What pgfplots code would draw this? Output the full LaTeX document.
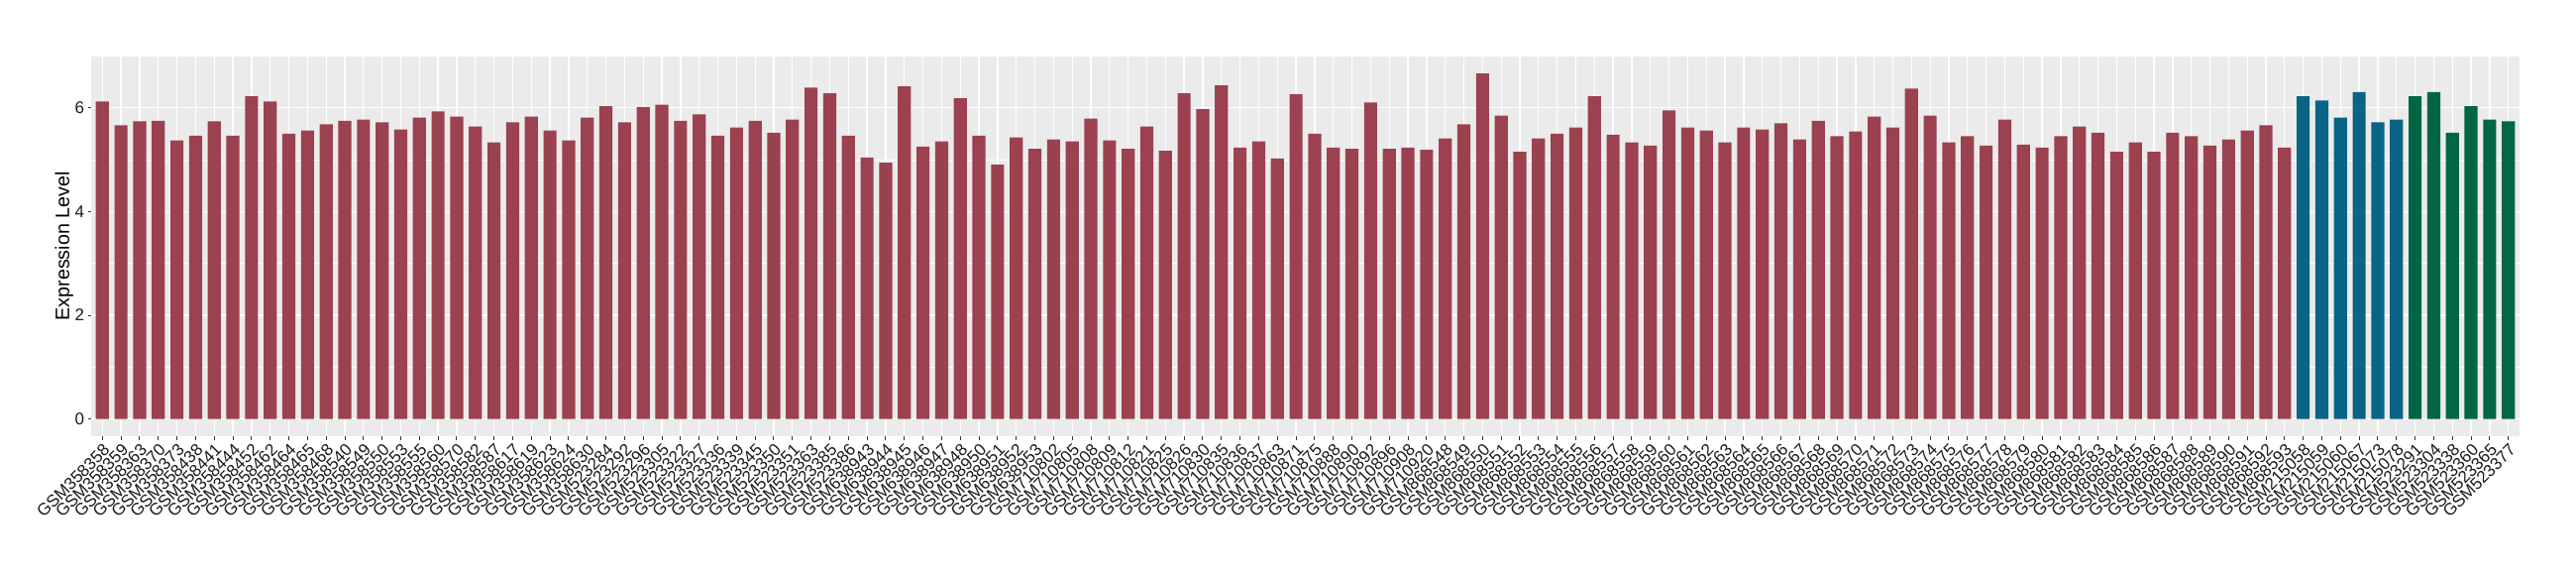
\documentclass[border=0pt]{standalone}
\usepackage{pgfplots}
\pgfplotsset{compat=1.18}
\usepackage{pgfplotstable}
\usepackage{fontspec}
\setmainfont{Liberation Sans}
\definecolor{barred}{HTML}{9B4150}
\definecolor{barblue}{HTML}{0A6485}
\definecolor{bargreen}{HTML}{006644}
\definecolor{panelbg}{HTML}{EBEBEB}
\definecolor{tickcol}{HTML}{333333}
\definecolor{ticklab}{HTML}{1A1A1A}

\pgfplotstableread{
x y
1 6.12
2 5.66
3 5.74
4 5.75
5 5.37
6 5.46
7 5.74
8 5.46
9 6.22
10 6.12
11 5.50
12 5.56
13 5.68
14 5.75
15 5.77
16 5.72
17 5.58
18 5.81
19 5.93
20 5.83
21 5.64
22 5.33
23 5.72
24 5.83
25 5.56
26 5.37
27 5.81
28 6.03
29 5.72
30 6.01
31 6.06
32 5.75
33 5.87
34 5.46
35 5.62
36 5.75
37 5.52
38 5.77
39 6.39
40 6.28
41 5.46
42 5.04
43 4.94
44 6.41
45 5.25
46 5.35
47 6.18
48 5.46
49 4.90
50 5.43
51 5.21
52 5.39
53 5.35
54 5.79
55 5.37
56 5.21
57 5.64
58 5.17
59 6.28
60 5.97
61 6.43
62 5.23
63 5.35
64 5.02
65 6.26
66 5.50
67 5.23
68 5.21
69 6.10
70 5.21
71 5.23
72 5.19
73 5.41
74 5.68
75 6.66
76 5.85
77 5.15
78 5.41
79 5.50
80 5.62
81 6.22
82 5.48
83 5.33
84 5.27
85 5.95
86 5.62
87 5.56
88 5.33
89 5.62
90 5.58
91 5.70
92 5.39
93 5.75
94 5.45
95 5.54
96 5.83
97 5.62
98 6.37
99 5.85
100 5.33
101 5.45
102 5.27
103 5.77
104 5.29
105 5.23
106 5.45
107 5.64
108 5.52
109 5.15
110 5.33
111 5.15
112 5.52
113 5.45
114 5.27
115 5.39
116 5.56
117 5.66
118 5.23
}\redtab

\pgfplotstableread{
x y
119 6.22
120 6.14
121 5.81
122 6.30
123 5.72
124 5.77
}\bluetab

\pgfplotstableread{
x y
125 6.22
126 6.30
127 5.52
128 6.03
129 5.77
130 5.74
}\greentab

\begin{document}
\begin{tikzpicture}
\path[use as bounding box] (-46pt,-70pt) rectangle (1254pt,220.05pt);
\begin{axis}[
  at={(0,0)}, anchor=south west,
  scale only axis, width=1225.5pt, height=191.7pt,
  xmin=0.4, xmax=130.6, ymin=-0.333, ymax=6.993,
  axis background/.style={fill=panelbg},
  axis x line*=bottom, axis y line*=left,
  axis line style={draw=none},
  xtick={1,...,130},
  xticklabels={GSM358358,GSM358359,GSM358363,GSM358370,GSM358373,GSM358438,GSM358441,GSM358444,GSM358452,GSM358462,GSM358464,GSM358465,GSM358468,GSM358540,GSM358549,GSM358550,GSM358553,GSM358555,GSM358560,GSM358570,GSM358582,GSM358587,GSM358617,GSM358619,GSM358623,GSM358624,GSM358630,
  GSM523284,GSM523292,GSM523296,GSM523305,GSM523322,GSM523327,GSM523336,GSM523339,GSM523345,GSM523350,GSM523351,GSM523363,GSM523385,GSM523386,
  GSM638943,GSM638944,GSM638945,GSM638946,GSM638947,GSM638948,GSM638950,GSM638951,GSM638952,GSM638953,
  GSM710802,GSM710805,GSM710808,GSM710809,GSM710812,GSM710821,GSM710825,GSM710826,GSM710830,GSM710835,GSM710836,GSM710837,GSM710863,GSM710871,GSM710875,GSM710888,GSM710890,GSM710892,GSM710896,GSM710908,GSM710920,
  GSM868548,GSM868549,GSM868550,GSM868551,GSM868552,GSM868553,GSM868554,GSM868555,GSM868556,GSM868557,GSM868558,GSM868559,GSM868560,GSM868561,GSM868562,GSM868563,GSM868564,GSM868565,GSM868566,GSM868567,GSM868568,GSM868569,GSM868570,GSM868571,GSM868572,GSM868573,GSM868574,GSM868575,GSM868576,GSM868577,GSM868578,GSM868579,GSM868580,GSM868581,GSM868582,GSM868583,GSM868584,GSM868585,GSM868586,GSM868587,GSM868588,GSM868589,GSM868590,GSM868591,GSM868592,GSM868593,
  GSM215058,GSM215059,GSM215060,GSM215067,GSM215073,GSM215078,
  GSM523291,GSM523304,GSM523338,GSM523360,GSM523365,GSM523377},
  ytick={0,2,4,6}, minor ytick={1,3,5},
  xmajorgrids, ymajorgrids, yminorgrids,
  major grid style={white, line width=0.65pt},
  minor grid style={white, line width=0.35pt},
  tick align=outside,
  major tick length=1.7pt,
  minor tick length=0pt,
  every tick/.style={tickcol, line width=0.5pt},
  tick label style={font=\fontsize{8.5}{10}\selectfont, text=ticklab},
  xticklabel style={rotate=45, anchor=north east, inner sep=1pt},
  yticklabel style={inner sep=1.5pt},
  /pgf/number format/assume math mode=true,
  ylabel={Expression Level},
  ylabel style={at={(axis description cs:-0.01114,0.5)}, anchor=center, font=\fontsize{9.85}{11}\selectfont},
]
\addplot[ybar, bar width=0.7, bar shift=0pt, fill=barred, draw=none] table[x=x,y=y]{\redtab};
\addplot[ybar, bar width=0.7, bar shift=0pt, fill=barblue, draw=none] table[x=x,y=y]{\bluetab};
\addplot[ybar, bar width=0.7, bar shift=0pt, fill=bargreen, draw=none] table[x=x,y=y]{\greentab};
\end{axis}
\end{tikzpicture}
\end{document}
